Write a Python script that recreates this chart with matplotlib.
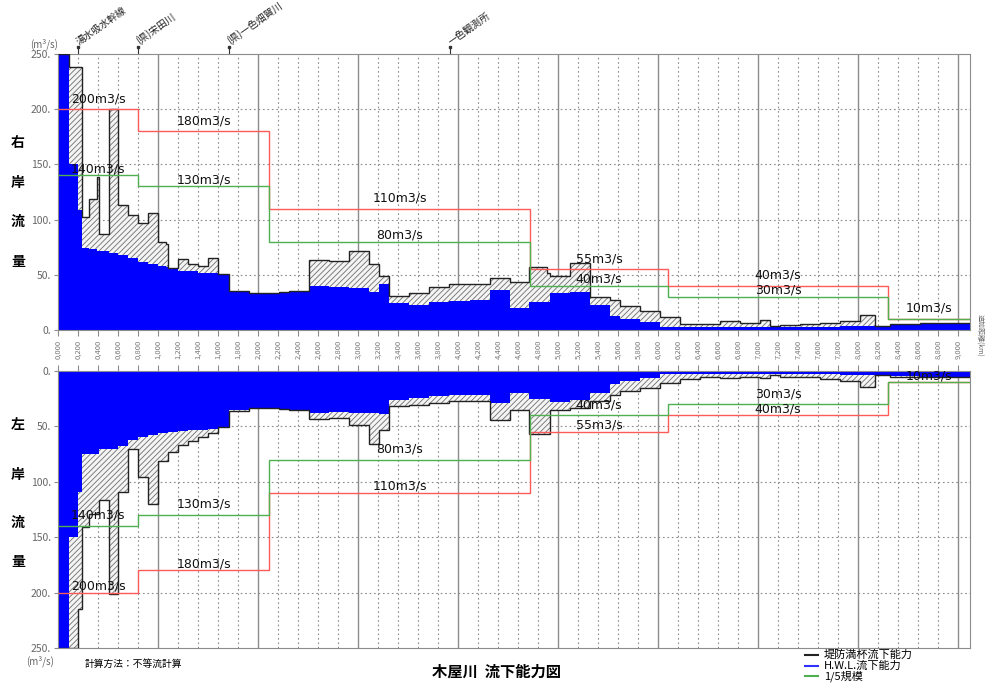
import numpy as np
import matplotlib.pyplot as plt
from matplotlib.lines import Line2D

plt.rcParams['font.family'] = ['Noto Sans CJK JP', 'DejaVu Sans']
plt.rcParams['hatch.linewidth'] = 0.6

# 追加距離 (km) の区間境界
edges = [0.0, 0.11, 0.20, 0.243, 0.313, 0.387, 0.413, 0.513, 0.603, 0.703, 0.803,
         0.903, 1.003, 1.08, 1.103, 1.203, 1.303, 1.403, 1.503, 1.603, 1.713,
         1.913, 2.113, 2.213, 2.313, 2.513, 2.713, 2.913, 3.113, 3.213, 3.313,
         3.513, 3.713, 3.913, 4.12, 4.32, 4.52, 4.71, 4.89, 4.92, 5.12, 5.32,
         5.52, 5.62, 5.82, 6.02, 6.22, 6.42, 6.62, 6.82, 7.02, 7.12, 7.22, 7.42,
         7.62, 7.82, 8.02, 8.17, 8.32, 8.62, 9.12]

# 右岸 H.W.L.流下能力 / 堤防満杯流下能力 (m3/s)
hwl_right = [250, 150, 109, 74, 73, 72, 72, 70, 68, 65, 62, 60, 58, 57, 55, 53.5,
             53, 52, 51.5, 50.7, 34.7, 33.2, 33.2, 34, 35.3, 39.9, 39, 37.7, 34.7,
             42, 24.8, 22.6, 25.7, 26.6, 27.2, 35.9, 19.8, 25.7, 25.7, 33.2, 34.7,
             22.6, 12.3, 10, 7, 3, 2.5, 2.5, 3, 3, 3, 2.5, 2.5, 3, 3, 3.5, 4, 4,
             4.5, 5]
bank_right = [250, 238, 238, 102.6, 119, 139, 87, 200, 113, 104, 96.6, 105.7, 80,
              78, 56, 64, 59.4, 58, 64.9, 50.7, 35.3, 33.2, 33.2, 34, 35.3, 63.4,
              62.8, 71.6, 60, 49, 31.2, 33.3, 38.7, 41.7, 41.7, 47.4, 43.8, 56.8,
              51.4, 49, 61, 30.2, 27.2, 22, 17, 12, 5, 5, 8, 6, 9, 4, 4.5, 5, 6, 8,
              14, 4, 5, 6]

# 左岸 H.W.L.流下能力 / 堤防満杯流下能力 (m3/s)
hwl_left = [250, 150, 109, 74.6, 74.6, 74.6, 70, 70, 68, 62.5, 59.5, 58, 55.8,
            55.8, 55, 54, 53.4, 52.8, 51.9, 50.4, 35.3, 33.8, 33.8, 34.7, 35, 38,
            37, 38, 38, 39, 26, 24, 23, 22, 22, 29, 20, 25, 25, 28, 26, 20, 12, 9,
            6, 3, 2.5, 2.5, 3, 3, 3, 2.5, 2.5, 3, 3, 3.5, 4, 4, 4.5, 5]
bank_left = [250, 250, 215, 141, 129, 129, 116, 201, 109, 70, 95.5, 119.6, 81, 81,
             72.8, 67, 63, 60, 55.8, 50.4, 36, 33.8, 33.8, 34.7, 35, 43, 42, 49,
             66, 53, 32, 31, 29, 27, 27, 44, 35, 57, 57, 35, 33, 27, 22, 18, 15,
             11, 7, 5, 6, 5, 6, 4, 5, 5, 7, 9, 14, 4, 5, 5]

# 計画流量と1/5規模流量
plan_edges = [0.0, 0.8, 2.11, 4.72, 6.1, 8.3, 9.12]
plan_flow = [200, 180, 110, 55, 40, 10]
plan_1_5 = [140, 130, 80, 40, 30, 10]

# 主要地点
points_km = [0.2, 0.8, 1.71, 3.92]
points_name = ['湯水吸水幹線', '(県)宋田川', '(県)一色畑賀川', '一色観測所']

xticks = np.round(np.arange(0, 9.01, 0.2), 1)
xtick_labels = ['{:.3f}'.format(v).replace('.', ',') for v in xticks]

XMAX = 9.12
GRID = '#8c8c8c'
RED = '#ff5a5a'
GREEN = '#4fb04f'

fig = plt.figure(figsize=(9.87, 6.83), dpi=100)
ax_r = fig.add_axes([58 / 987, 1 - 330 / 683, 912 / 987, 276 / 683])
ax_l = fig.add_axes([58 / 987, 1 - 648 / 683, 912 / 987, 277 / 683])


def draw_panel(ax, hwl, bank, lift_red, lift_green):
    ax.set_xlim(0, XMAX)
    for x in np.arange(0.2, XMAX, 0.2):
        if abs(x - round(x)) < 1e-6:
            ax.axvline(x, color=GRID, lw=1.0, zorder=0.5)
        else:
            ax.axvline(x, color=GRID, lw=0.8, ls=(0, (1.5, 2.5)), zorder=0.5)
    for y in [50, 100, 150, 200]:
        ax.axhline(y, color=GRID, lw=0.8, ls=(0, (1.5, 2.5)), zorder=0.5)

    ax.stairs(hwl, edges, baseline=0, fill=True, color='#0000ff', lw=0, zorder=2)
    ax.stairs(bank, edges, baseline=hwl, fill=True, facecolor='#f4f4f4',
              edgecolor='#6e6e6e', hatch='//////', lw=0, zorder=1.5)
    ax.stairs(bank, edges, baseline=None, color='#222222', lw=1.0, zorder=3)

    ax.stairs(plan_flow, plan_edges, baseline=None, color=RED, lw=1.0, zorder=4)
    ax.stairs(plan_1_5, plan_edges, baseline=None, color=GREEN, lw=1.0, zorder=4)

    # 流量ラベル (同じ値なら1つだけ)
    for i in range(len(plan_flow)):
        xc = (plan_edges[i] + plan_edges[i + 1]) / 2
        pairs = [(plan_flow[i], lift_red)]
        if plan_1_5[i] != plan_flow[i]:
            pairs.append((plan_1_5[i], lift_green))
        for v, lift in pairs:
            ax.annotate(f'{v}m3/s', (xc, v), xytext=(0, lift),
                        textcoords='offset points', ha='center', va='bottom',
                        fontsize=9, family='DejaVu Sans', color='#111111',
                        zorder=5)

    ax.set_yticks([0, 50, 100, 150, 200, 250])
    ax.set_yticklabels(['0.', '50.', '100.', '150.', '200.', '250.'])
    ax.set_yticks(np.arange(0, 251, 10), minor=True)
    ax.tick_params(axis='y', which='major', length=3, color=GRID,
                   labelsize=7.5, labelcolor='#666666', pad=2)
    ax.tick_params(axis='y', which='minor', length=2, direction='in', color=GRID)
    for s in ax.spines.values():
        s.set_color(GRID)


draw_panel(ax_r, hwl_right, bank_right, lift_red=3, lift_green=0)
ax_r.set_ylim(0, 250)
ax_r.set_xticks(xticks)
ax_r.set_xticklabels(xtick_labels, rotation=90, fontsize=5.5, color='#777777')
ax_r.tick_params(axis='x', length=4, color=GRID, pad=3)

draw_panel(ax_l, hwl_left, bank_left, lift_red=0, lift_green=3)
ax_l.set_ylim(250, 0)
ax_l.set_xticks(xticks)
ax_l.tick_params(axis='x', top=True, bottom=False, labelbottom=False,
                 length=4, color=GRID)

# 主要地点の引出し
for km, name in zip(points_km, points_name):
    ax_r.plot([km, km], [250, 256], color='#333333', lw=0.8, clip_on=False)
    ax_r.plot([km], [256], marker='s', ms=1.8, color='#333333', clip_on=False)
    ax_r.text(km + 0.02, 257, name, rotation=35, rotation_mode='anchor',
              ha='left', va='bottom', fontsize=7, color='#222222')

fig.text(980 / 987, 1 - 335 / 683, '追加距離(km)', rotation=270, ha='center',
         va='center', fontsize=5, color='#666666')

for ch, y in zip('右岸流量', [143, 183, 222, 262]):
    fig.text(18 / 987, 1 - y / 683, ch, ha='center', va='center', fontsize=10,
             fontweight='bold')
for ch, y in zip('左岸流量', [425, 475, 523, 562]):
    fig.text(18 / 987, 1 - y / 683, ch, ha='center', va='center', fontsize=10,
             fontweight='bold')

fig.text(44 / 987, 1 - 44 / 683, '(m³/s)', ha='center', va='center',
         fontsize=7, color='#666666')
fig.text(40 / 987, 1 - 661 / 683, '(m³/s)', ha='center', va='center',
         fontsize=7, color='#666666')

fig.text(85 / 987, 1 - 664 / 683, '計算方法：不等流計算', ha='left', va='center',
         fontsize=7)
fig.text(497 / 987, 1 - 672 / 683, '木屋川  流下能力図', ha='center', va='center',
         fontsize=11, fontweight='bold')

legend_items = [('堤防満杯流下能力', '#222222'), ('H.W.L.流下能力', '#3030ff'),
                ('1/5規模', GREEN)]
for i, (label, c) in enumerate(legend_items):
    y = 1 - (655 + 10.5 * i) / 683
    fig.add_artist(Line2D([805 / 987, 818 / 987], [y, y], color=c, lw=1.5))
    fig.text(824 / 987, y, label, ha='left', va='center', fontsize=8)

fig.savefig('out.png', dpi=100)
